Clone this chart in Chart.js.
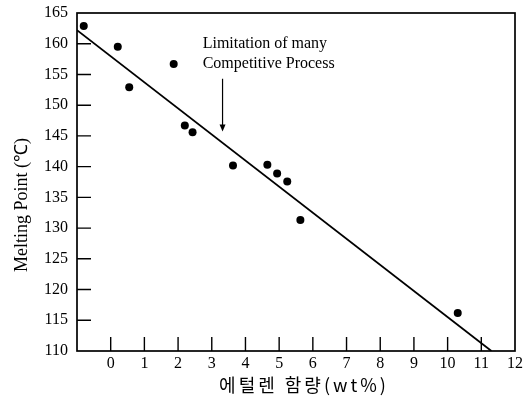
<!DOCTYPE html>
<html>
<head>
<meta charset="utf-8">
<script src="https://cdn.jsdelivr.net/npm/chart.js@4/dist/chart.umd.min.js"></script>
<style>
  html, body { margin: 0; padding: 0; background: #fff; }
  #wrap { width: 531px; height: 407px; }
</style>
</head>
<body>
<div id="wrap"><canvas id="c" width="531" height="407"></canvas></div>
<script>
// Ethylene content (wt%) vs. melting point (°C)
const ethyleneWt = [-0.8, 0.21, 0.55, 1.87, 2.2, 2.43, 3.63, 4.65, 4.94, 5.24, 5.63, 10.3];
const meltingPoint = [162.9, 159.5, 152.9, 156.7, 146.7, 145.6, 140.2, 140.3, 138.9, 137.6, 131.3, 116.2];

// Linear trend line end points
const trendX = [-1, 11.3];
const trendY = [162.2, 110.0];

// Axis ticks
const xTickValues = [0, 1, 2, 3, 4, 5, 6, 7, 8, 9, 10, 11, 12];
const yTickValues = [110, 115, 120, 125, 130, 135, 140, 145, 150, 155, 160, 165];

// Annotation
const noteLines = ['Limitation of many', 'Competitive Process'];
const noteAt = { x: 2.73, y: 159.3 };
const arrowX = 3.32;
const arrowFromY = 154.3;
const arrowToY = 145.7;

const xTitle = '에털렌 함량(wt%)';
const yTitle = 'Melting Point (℃)';

const SERIF = "'Liberation Serif', 'Times New Roman', serif";

const framePlugin = {
  id: 'frame',
  afterDraw(chart) {
    const { ctx, chartArea: a, scales: { x, y } } = chart;
    ctx.save();
    ctx.strokeStyle = '#000';
    ctx.lineWidth = 1.7;
    ctx.strokeRect(a.left, a.top, a.right - a.left, a.bottom - a.top);

    // inward tick marks
    ctx.lineWidth = 1.4;
    ctx.beginPath();
    yTickValues.forEach(v => {
      if (v === y.min || v === y.max) return;
      const py = y.getPixelForValue(v);
      ctx.moveTo(a.left, py);
      ctx.lineTo(a.left + 14, py);
    });
    xTickValues.forEach(v => {
      if (v === x.max) return;
      const px = x.getPixelForValue(v);
      ctx.moveTo(px, a.bottom);
      ctx.lineTo(px, a.bottom - 14);
    });
    ctx.stroke();

    // annotation text
    ctx.fillStyle = '#000';
    ctx.font = '16px ' + SERIF;
    ctx.textAlign = 'left';
    ctx.textBaseline = 'alphabetic';
    const tx = x.getPixelForValue(noteAt.x);
    const ty = y.getPixelForValue(noteAt.y);
    noteLines.forEach((line, i) => ctx.fillText(line, tx, ty + i * 20));

    // arrow
    const ax = x.getPixelForValue(arrowX);
    const ay0 = y.getPixelForValue(arrowFromY);
    const ay1 = y.getPixelForValue(arrowToY);
    ctx.lineWidth = 1.2;
    ctx.beginPath();
    ctx.moveTo(ax, ay0);
    ctx.lineTo(ax, ay1 - 4);
    ctx.stroke();
    ctx.beginPath();
    ctx.moveTo(ax - 3, ay1 - 7);
    ctx.lineTo(ax + 3, ay1 - 7);
    ctx.lineTo(ax, ay1);
    ctx.closePath();
    ctx.fill();

    // axis titles
    ctx.font = '18px ' + SERIF;
    ctx.textAlign = 'center';
    ctx.textBaseline = 'alphabetic';
    ctx.save();
    ctx.translate(27, 205);
    ctx.rotate(-Math.PI / 2);
    ctx.fillText(yTitle, 0, 0);
    ctx.restore();

    ctx.font = "18px 'Noto Sans CJK KR', sans-serif";
    ctx.letterSpacing = '3px';
    ctx.textBaseline = 'middle';
    ctx.fillText(xTitle, 304, 385);
    ctx.restore();
  }
};

new Chart(document.getElementById('c'), {
  type: 'scatter',
  data: {
    datasets: [
      {
        label: 'Melting point',
        data: ethyleneWt.map((v, i) => ({ x: v, y: meltingPoint[i] })),
        pointRadius: 4,
        pointHoverRadius: 4,
        pointBackgroundColor: '#000',
        pointBorderWidth: 0,
        showLine: false
      },
      {
        label: 'Trend',
        type: 'line',
        data: trendX.map((v, i) => ({ x: v, y: trendY[i] })),
        borderColor: '#000',
        borderWidth: 1.8,
        pointRadius: 0,
        fill: false,
        tension: 0
      }
    ]
  },
  options: {
    responsive: false,
    animation: false,
    devicePixelRatio: 1,
    layout: { padding: { left: 0, top: 13, right: 16, bottom: 0 } },
    plugins: { legend: { display: false }, tooltip: { enabled: false } },
    scales: {
      x: {
        type: 'linear',
        min: -1,
        max: 12,
        afterBuildTicks: s => { s.ticks = xTickValues.map(v => ({ value: v })); },
        afterFit: s => { s.height = 56; s.paddingLeft = 0; s.paddingRight = 0; },
        ticks: { color: '#000', font: { family: SERIF, size: 16 }, padding: 3, autoSkip: false, maxRotation: 0 },
        grid: { drawOnChartArea: false, drawTicks: false },
        border: { display: false }
      },
      y: {
        type: 'linear',
        min: 110,
        max: 165,
        afterBuildTicks: s => { s.ticks = yTickValues.map(v => ({ value: v })); },
        afterFit: s => { s.width = 77; s.paddingTop = 0; s.paddingBottom = 0; },
        ticks: { color: '#000', font: { family: SERIF, size: 16 }, padding: 9 },
        grid: { drawOnChartArea: false, drawTicks: false },
        border: { display: false }
      }
    }
  },
  plugins: [framePlugin]
});
</script>
</body>
</html>
